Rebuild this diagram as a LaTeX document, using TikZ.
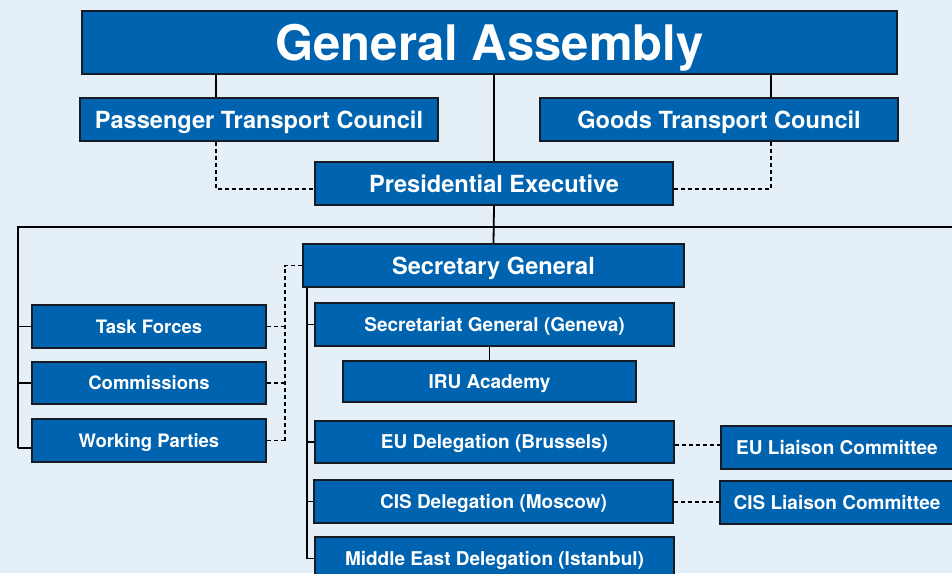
\documentclass[tikz,border=0pt]{standalone}
\usepackage{fontspec}
\setmainfont{TeX Gyre Heros}
\definecolor{iruback}{RGB}{228,239,247}
\definecolor{irublue}{RGB}{0,99,175}
\definecolor{iruedge}{RGB}{22,28,38}

\begin{document}
\begin{tikzpicture}[x=1pt,y=-1pt,
    box/.style={draw=iruedge,line width=1.3pt,fill=irublue,text=white,
      inner sep=0pt,minimum height=43pt,text depth=0pt},
    toplevel/.style={box,minimum width=815pt,minimum height=63pt,text height=35.3pt,
      font=\fontsize{49}{56}\selectfont\bfseries},
    council/.style={box,minimum width=358pt,text height=17pt,
      font=\fontsize{23.6}{28}\selectfont\bfseries},
    office/.style={box,minimum width=359pt,text height=13.7pt,
      font=\fontsize{19}{23}\selectfont\bfseries},
    group/.style={box,minimum width=234pt,text height=13.3pt,
      font=\fontsize{18.5}{22}\selectfont\bfseries},
    link/.style={line width=1.8pt},
    dlink/.style={line width=1.7pt,dash pattern=on 4pt off 3pt}]
  \clip (0,0) rectangle (952,573) ;
  \fill[iruback] (0,0) rectangle (952,573) ;
  % top of the chart
  \node[toplevel] (ga) at (489.5,42.5) {General Assembly} ;
  \node[council] (ptc) at (259,119.5) {Passenger Transport Council} ;
  \node[council] (gtc) at (719,119.5) {Goods Transport Council} ;
  \node[council] (pe) at (494,183.5) {Presidential Executive} ;
  \node[council,minimum width=381pt] (sg) at (493.5,265.5) {Secretary General} ;
  % left groups
  \node[group] (tf) at (149,326.5) {Task Forces} ;
  \node[group,minimum height=42pt] (com) at (149,383) {Commissions} ;
  \node[group] (wp) at (149,440.5) {Working Parties} ;
  % offices
  \node[office] (sgg) at (494.5,324.5) {Secretariat General (Geneva)} ;
  \node[office,minimum width=293pt,minimum height=41pt] (iru) at (489.5,381.5) {IRU Academy} ;
  \node[office,minimum height=42pt] (eu) at (494.5,442) {EU Delegation (Brussels)} ;
  \node[office] (cis) at (493.5,501.5) {CIS Delegation (Moscow)} ;
  \node[office] (me) at (494.5,558.5) {Middle East Delegation (Istanbul)} ;
  \node[office,minimum width=232pt] (eul) at (837,447.5) {EU Liaison Committee} ;
  \node[office,minimum width=234pt] (cisl) at (837,502.5) {CIS Liaison Committee} ;
  % helper points
  \coordinate (pa) at (216,0) ;
  \coordinate (ga2) at (771,0) ;
  \coordinate (lt) at (18,227) ;
  \coordinate (rt) at (960,227) ;
  \coordinate (sv) at (307,0) ;
  \coordinate (dv) at (285,0) ;
  % solid links
  \draw[link] (pe.north) -- (pe.north |- ga.south) ;
  \draw[link] (pa |- ga.south) -- (pa |- ptc.north) ;
  \draw[link] (ga2 |- ga.south) -- (ga2 |- gtc.north) ;
  \draw[link] (pe.south) -- (sg.north) ;
  \draw[link] (rt) -- (lt) -- (lt |- 0,448) ;
  \foreach \n in {tf,com} \draw[link] (lt |- \n.west) -- (\n.west) ;
  \draw[link] (lt |- 0,448) -- (wp.west |- 0,448) ;
  \draw[link] (sv |- sg.south) -- (sv |- me.west) ;
  \foreach \n in {sgg,eu,cis,me} \draw[link] (sv |- \n.west) -- (\n.west) ;
  \draw[link] (sgg.south -| iru.north) -- (iru.north) ;
  % dashed links
  \draw[dlink] (pa |- ptc.south) -- (pa |- 0,189) -- (pe.west |- 0,189) ;
  \draw[dlink] (ga2 |- gtc.south) -- (ga2 |- 0,189) -- (pe.east |- 0,189) ;
  \draw[dlink] (sg.west) -- (dv |- sg.west) -- (dv |- wp.east) ;
  \foreach \n in {tf,com,wp} \draw[dlink] (\n.east) -- (dv |- \n.east) ;
  \draw[dlink] (eu.east |- 0,445) -- (eul.west |- 0,445) ;
  \draw[dlink] (cis.east |- 0,502) -- (cisl.west |- 0,502) ;
\end{tikzpicture}
\end{document}
